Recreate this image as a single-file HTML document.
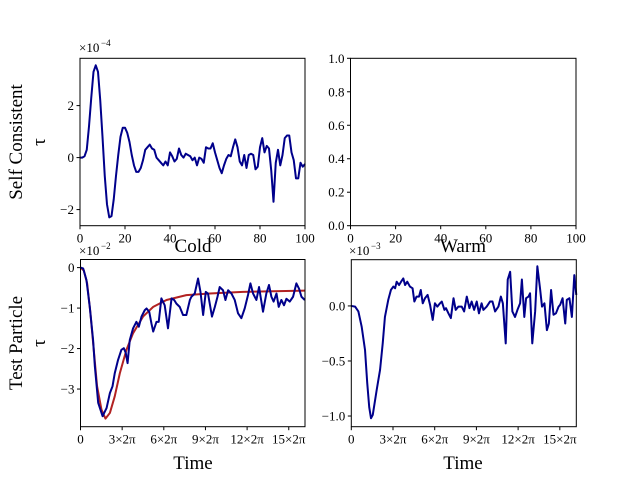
<!DOCTYPE html>
<html><head><meta charset="utf-8"><style>
body{margin:0;background:#fff}
svg{display:block;font-family:"Liberation Serif",serif}
</style></head><body>
<svg id="fig" width="640" height="480" viewBox="0 0 640 480" xmlns="http://www.w3.org/2000/svg"></svg>
<script>
// ---- data ----
const scTime = Array.from({length:101},(_,i)=>i);
const scValues = [0,0,0.05,0.3,1.2,2.3,3.3,3.55,3.3,2.2,0.8,-0.7,-1.8,-2.3,-2.25,-1.6,-0.7,0.1,0.8,1.15,1.15,0.95,0.6,0.1,-0.3,-0.55,-0.55,-0.4,-0.1,0.3,0.4,0.5,0.35,0.3,0,-0.1,-0.2,-0.3,-0.15,-0.3,0.2,0.05,-0.15,-0.05,0.35,0.1,0,0.15,0.1,0.05,-0.1,0,-0.3,0,-0.05,-0.2,0.4,0.35,0.35,0.55,0.2,-0.1,-0.4,-0.6,-0.3,-0.05,0.1,0.05,0.4,0.7,0.4,-0.15,-0.3,0.1,-0.4,0.1,0.15,0.1,-0.45,-0.35,0.4,0.75,0.2,0.45,0.35,-0.5,-1.7,-0.2,0.3,-0.3,0.1,0.75,0.85,0.85,0.2,-0.1,-0.8,-0.8,-0.2,-0.35,-0.25];
const coldTime = [0,1.2,2.7,4.2,5.7,6.5,8.0,10.0,11.8,13.3,14.5,15.5,17.0,18.5,19.6,20.5,21.3,22.3,23.8,25.3,26.4,27.6,29.1,29.9,31.1,32.1,32.9,34.4,35.4,36.6,38.1,39.6,41.2,42.4,43.4,44.9,46.4,47.9,49.5,50.2,51.7,53.2,54.3,55.5,56.7,57.7,59.5,60.8,62.0,63.0,64.5,65.6,66.8,68.3,69.8,71.3,72.8,74.3,75.8,76.9,78.1,79.6,80.8,82.6,84.1,85.3,86.4,87.4,88.7,89.7,90.9,92.1,93.2,94.7,96.2,97.7,98.9,100.0,101.5];
const coldValues = [0,-0.02,-0.31,-0.97,-1.79,-2.44,-3.34,-3.67,-3.47,-3.10,-2.93,-2.61,-2.28,-2.03,-1.99,-2.11,-2.36,-1.79,-1.5,-1.34,-1.46,-1.21,-1.05,-1.01,-1.09,-1.38,-1.58,-1.34,-1.34,-0.76,-0.93,-1.5,-0.76,-0.8,-0.89,-0.97,-1.17,-1.17,-0.8,-0.72,-0.64,-0.27,-0.6,-1.17,-0.6,-0.64,-1.21,-0.97,-0.72,-0.48,-0.56,-0.8,-0.56,-0.64,-0.8,-1.13,-1.25,-1.01,-0.68,-0.39,-0.64,-0.8,-0.48,-1.09,-0.64,-0.43,-0.72,-0.84,-0.64,-0.97,-0.8,-0.93,-0.77,-0.84,-0.72,-0.39,-0.52,-0.72,-0.8];
const modelTime = [0,1.5,3.0,4.5,6.0,7.5,9.5,11.3,13.3,15.5,17.8,20.8,23.8,28.3,32.9,38.9,47.9,58.5,73.5,101.5];
const modelValues = [0,-0.07,-0.39,-1.13,-2.03,-2.93,-3.51,-3.73,-3.59,-3.18,-2.61,-2.03,-1.62,-1.21,-0.97,-0.8,-0.68,-0.64,-0.6,-0.57];
const warmTime = [0,1.7,3.2,4.7,6.2,7.2,8.1,8.9,9.7,11.5,13.0,14.2,15.2,16.7,17.9,19.0,19.8,20.5,21.6,22.5,23.5,24.3,25.3,26.5,27.7,28.5,29.5,30.6,31.4,32.3,33.3,34.5,35.6,36.8,37.8,38.9,40.1,40.9,42.1,42.8,43.9,45.0,46.2,47.2,48.4,49.9,51.0,52.2,53.4,54.4,55.5,56.7,57.7,58.9,59.7,61.2,62.7,63.8,65.0,66.5,67.6,68.5,69.8,70.7,71.8,72.8,74.0,75.1,76.3,77.1,78.2,79.0,80.1,80.8,81.8,83.1,84.1,85.3,86.2,87.3,88.4,89.3,90.3,91.4,92.5,93.7,94.4,95.5,96.7,97.4,98.6,99.7,100.8,101.7];
const warmValues = [0,-0.006,-0.05,-0.19,-0.40,-0.70,-0.92,-1.02,-0.99,-0.76,-0.58,-0.34,-0.1,0.055,0.145,0.176,0.16,0.22,0.19,0.22,0.25,0.19,0.22,0.176,0.16,0.04,0.085,0.085,0.145,0.024,0.07,0.1,0.01,-0.127,0.024,-0.006,0.024,0.04,-0.036,-0.02,-0.067,-0.11,0.07,-0.036,-0.006,-0.006,-0.05,0.085,-0.02,0.04,-0.036,0.04,-0.067,0.024,-0.036,-0.006,0.04,0.04,-0.05,-0.006,0.085,0.024,-0.34,0.24,0.31,-0.05,-0.1,-0.036,0.024,0.24,-0.1,0.07,0.085,0.115,-0.34,-0.05,0.36,0.16,-0.006,0.024,-0.22,-0.16,0.145,-0.08,-0.067,-0.006,0.01,0.07,-0.16,0.055,0.07,-0.1,0.28,0.1];
const linTicks = [0,20,40,60,80,100];
const piTicks = [0,18.85,37.70,56.55,75.40,94.25];
const piLabels = ['0','3×2π','6×2π','9×2π','12×2π','15×2π'];
const scYTicks = [-2,0,2];
const coldYTicks = [-3,-2,-1,0];
const warmYTicks = [-1.0,-0.5,0.0];
const unitYTicks = [0,0.2,0.4,0.6,0.8,1.0];

const NS='http://www.w3.org/2000/svg';
const svg=document.getElementById('fig');
function mk(tag,attrs,parent){const e=document.createElementNS(NS,tag);for(const k in attrs)e.setAttribute(k,attrs[k]);(parent||svg).appendChild(e);return e;}
function txt(s,attrs,name){const e=mk('text',attrs);e.textContent=s;


return e;}

function axes(name,box,xd,yd){
  const [x0,y0,x1,y1]=box;
  const sx=v=>x0+(v-xd[0])/(xd[1]-xd[0])*(x1-x0);
  const sy=v=>y1-(v-yd[0])/(yd[1]-yd[0])*(y1-y0);
  const g=mk('g',{});
  
  
  return {g,sx,sy,box};
}
function frame(a){const [x0,y0,x1,y1]=a.box;const r=mk('rect',{x:x0,y:y0,width:x1-x0,height:y1-y0,fill:'none',stroke:'#000','stroke-width':1},a.g);

}
function xticks(a,vals,labels,name){vals.forEach((v,i)=>{const x=a.sx(v);mk('line',{x1:x,x2:x,y1:a.box[3],y2:a.box[3]+3.5,stroke:'#000'},a.g);
const t=txt(labels[i],{x:x,y:a.box[3]+17,'font-size':13,'text-anchor':'middle'},name);});}
function yticks(a,vals,labels,name){vals.forEach((v,i)=>{const y=a.sy(v);mk('line',{x1:a.box[0]-3.5,x2:a.box[0],y1:y,y2:y,stroke:'#000'},a.g);
txt(labels[i],{x:a.box[0]-6,y:y+4.5,'font-size':13,'text-anchor':'end'},name);});}
function line(a,xs,ys,color,name){const d=xs.map((x,i)=>(i?'L':'M')+a.sx(x).toFixed(2)+','+a.sy(ys[i]).toFixed(2)).join('');
const p=mk('path',{d:d,fill:'none',stroke:color,'stroke-width':2,'stroke-linejoin':'round'},a.g);


mk('clipPath',{});}

// top-left
const A=axes('self-consistent-cold-axes',[80,58.3,305,225.7],[0,100],[-2.62,3.82]);
line(A,scTime,scValues,'#00008b','self-consistent-series');
frame(A);xticks(A,linTicks,linTicks.map(String),'x-tick-label');yticks(A,scYTicks,scYTicks.map(v=>v<0?'−'+(-v):String(v)),'y-tick-label');
txt('×10',{x:79,y:52,'font-size':13},'y-scale-multiplier');txt('−4',{x:101,y:46,'font-size':9},'y-scale-exponent');

// top-right
const B=axes('self-consistent-warm-axes',[350.5,58.3,576,225.7],[0,100],[0,1]);
frame(B);xticks(B,linTicks,linTicks.map(String),'x-tick-label');yticks(B,unitYTicks,unitYTicks.map(v=>v.toFixed(1)),'y-tick-label');

// bottom-left
const C=axes('test-particle-cold-axes',[80.5,259.5,305,426.7],[0,101.6],[-3.93,0.2]);
line(C,modelTime,modelValues,'#b22222','model-curve');
line(C,coldTime,coldValues,'#00008b','cold-series');
frame(C);xticks(C,piTicks,piLabels,'x-tick-label');yticks(C,coldYTicks,coldYTicks.map(v=>v<0?'−'+(-v):String(v)),'y-tick-label');
txt('×10',{x:79,y:255,'font-size':13},'y-scale-multiplier');txt('−2',{x:101,y:249,'font-size':9},'y-scale-exponent');
txt('Cold',{x:193,y:252,'font-size':19,'text-anchor':'middle'},'cold-title');
txt('Time',{x:193,y:469,'font-size':19,'text-anchor':'middle'},'x-axis-title');

// bottom-right
const D=axes('test-particle-warm-axes',[351.3,259.7,576.3,426.7],[0,101.7],[-1.097,0.42]);
line(D,warmTime,warmValues,'#00008b','warm-series');
frame(D);xticks(D,piTicks,piLabels,'x-tick-label');yticks(D,warmYTicks,warmYTicks.map(v=>v<0?'−'+(-v).toFixed(1):v.toFixed(1)),'y-tick-label');
txt('×10',{x:349,y:255,'font-size':13},'y-scale-multiplier');txt('−3',{x:371,y:249,'font-size':9},'y-scale-exponent');
txt('Warm',{x:463,y:252,'font-size':19,'text-anchor':'middle'},'warm-title');
txt('Time',{x:463,y:469,'font-size':19,'text-anchor':'middle'},'x-axis-title');

// row labels
txt('Self Consistent',{x:0,y:0,'font-size':19,'text-anchor':'middle',transform:'translate(22,142) rotate(-90)'},'row-label-self-consistent');
txt('τ',{x:0,y:0,'font-size':19,'text-anchor':'middle',transform:'translate(45,142) rotate(-90)'},'y-axis-title');
txt('Test Particle',{x:0,y:0,'font-size':19,'text-anchor':'middle',transform:'translate(22,343) rotate(-90)'},'row-label-test-particle');
txt('τ',{x:0,y:0,'font-size':19,'text-anchor':'middle',transform:'translate(45,343) rotate(-90)'},'y-axis-title');
</script>
</body></html>
